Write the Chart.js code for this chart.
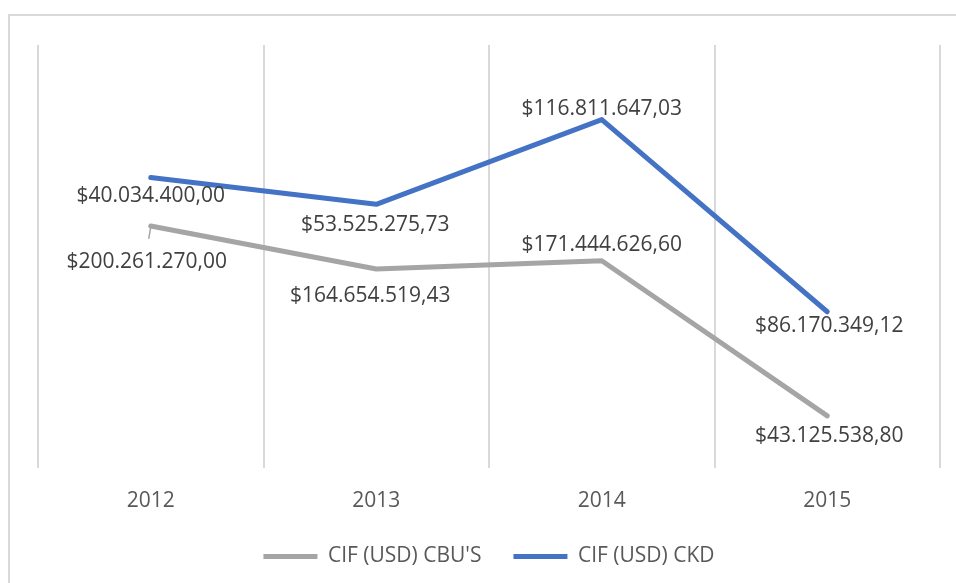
<!DOCTYPE html>
<html>
<head>
<meta charset="utf-8">
<script src="https://cdn.jsdelivr.net/npm/chart.js@4.4.1/dist/chart.umd.min.js"></script>
<style>
  html, body { margin: 0; padding: 0; background: #fff; }
  #wrap { width: 956px; height: 583px; position: relative; }
</style>
</head>
<body>
<div id="wrap"><canvas id="chart" width="956" height="583"></canvas></div>
<script>
// categorias (anos)
const years = ["2012", "2013", "2014", "2015"];
// series
const cbuValues = [200261270.00, 164654519.43, 171444626.60, 43125538.80];
const ckdValues = [40034400.00, 53525275.73, 116811647.03, 86170349.12];
const seriesNames = ["CIF (USD) CBU'S", "CIF (USD) CKD"];

// formato $1.234.567,89
function money(v) {
  const parts = v.toFixed(2).split(".");
  const int = parts[0].replace(/\B(?=(\d{3})+(?!\d))/g, ".");
  return "$" + int + "," + parts[1];
}

// label offsets (px, from the point) - like excel placement
const labelShift = [
  [[-4, 36], [-6, 27], [0, -16], [2, 20]],
  [[0, 18], [-1, 21], [0, -11], [2, 14]],
];

const borderPlugin = {
  id: "chartBorder",
  beforeDraw(chart) {
    const ctx = chart.ctx;
    ctx.save();
    ctx.strokeStyle = "#d9d9d9";
    ctx.lineWidth = 2;
    ctx.strokeRect(9, 15, 1000, 1000);
    ctx.restore();
  },
};

const labelsPlugin = {
  id: "valueLabels",
  afterDatasetsDraw(chart) {
    const ctx = chart.ctx;
    ctx.save();
    ctx.font = "21px 'Open Sans'";
    ctx.fillStyle = "#404040";
    ctx.textAlign = "center";
    ctx.textBaseline = "middle";
    chart.data.datasets.forEach((ds, i) => {
      const meta = chart.getDatasetMeta(i);
      meta.data.forEach((pt, j) => {
        const s = labelShift[i][j];
        const raw = ds.data[j];
        // leader line for the first grey label
        if (i === 0 && j === 0) {
          ctx.strokeStyle = "#a5a5a5";
          ctx.lineWidth = 1.5;
          ctx.beginPath();
          ctx.moveTo(pt.x, pt.y + 1);
          ctx.lineTo(pt.x - 2, pt.y + 13);
          ctx.stroke();
        }
        ctx.fillText(money(raw), pt.x + s[0], pt.y + s[1]);
      });
    });
    ctx.restore();
  },
};

new Chart(document.getElementById("chart").getContext("2d"), {
  type: "line",
  data: {
    labels: years,
    datasets: [
      {
        label: seriesNames[0],
        data: cbuValues,
        borderColor: "#a5a5a5",
        backgroundColor: "#a5a5a5",
        borderWidth: 5,
        borderCapStyle: "round",
        borderJoinStyle: "round",
        pointRadius: 0,
        tension: 0,
        fill: false,
      },
      {
        label: seriesNames[1],
        data: ckdValues,
        borderColor: "#4472c4",
        backgroundColor: "#4472c4",
        borderWidth: 5,
        borderCapStyle: "round",
        borderJoinStyle: "round",
        pointRadius: 0,
        tension: 0,
        fill: false,
      },
    ],
  },
  options: {
    responsive: false,
    animation: false,
    layout: { padding: { left: 38, right: 16, top: 45, bottom: 6 } },
    scales: {
      x: {
        offset: true,
        grid: { offset: true, color: "#d9d9d9", lineWidth: 2, drawTicks: false },
        border: { display: false },
        ticks: { color: "#595959", font: { family: "'Open Sans'", size: 21 }, padding: 20 },
        afterFit(scale) { scale.height = 46; },
      },
      y: {
        display: false,
        stacked: true,
        min: 0,
        max: 350000000,
      },
    },
    plugins: {
      tooltip: { enabled: false },
      legend: {
        position: "bottom",
        labels: {
          color: "#595959",
          font: { family: "'Open Sans'", size: 21 },
          usePointStyle: true,
          pointStyle: "line",
          pointStyleWidth: 54,
          boxHeight: 21,
          padding: 32,
        },
      },
    },
  },
  plugins: [borderPlugin, labelsPlugin],
});
</script>
</body>
</html>
